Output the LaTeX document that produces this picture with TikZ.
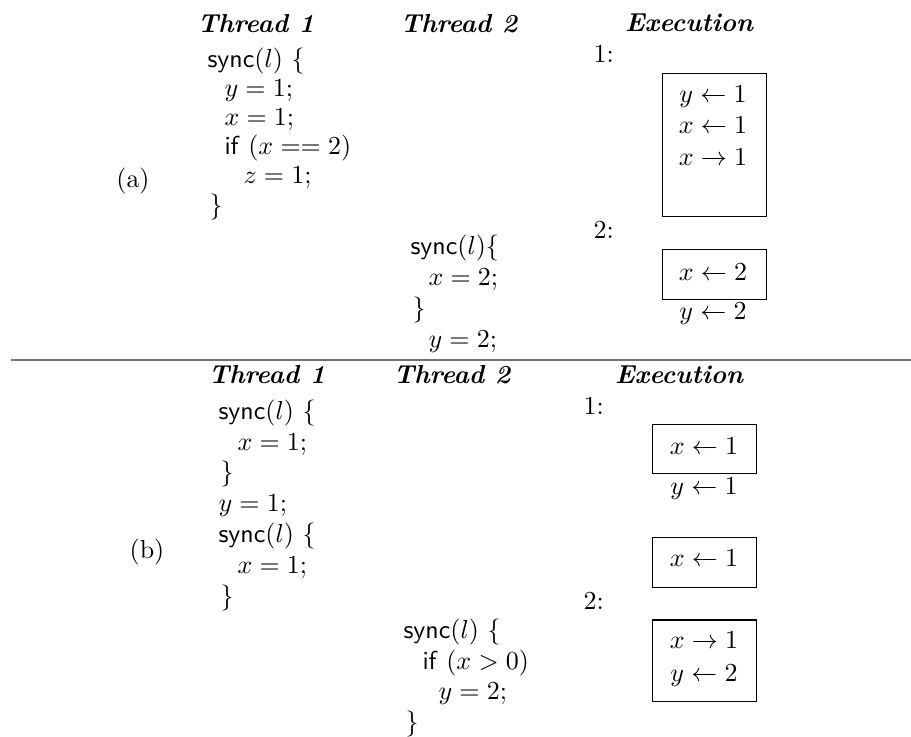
\documentclass[tikz,border=0pt]{standalone}
\usepackage{tikz}
\begin{document}
\begin{tikzpicture}[
    x=0.385pt, y=-0.385pt,
    code/.style={anchor=base west, inner sep=0pt},
    head/.style={anchor=base, inner sep=0pt, font=\bfseries\itshape},
    act/.style={anchor=base, inner sep=0pt},
    box/.style={draw, minimum width=40.4pt, inner sep=0pt}
  ]
  \useasboundingbox (0,0) rectangle (911,737);

  % (a)
  \node[head] (ha1) at (256,33) {Thread 1};
  \node[head] (ha2) at (459,33) {Thread 2};
  \node[head] (ha3) at (689,32) {Execution};
  \node[act] (la) at (133,188) {(a)};
  \foreach \n/\x/\y/\s in {1/207/68/{\textsf{sync}$(l)$ \{}, 2/224/97/{$y = 1;$},
      3/224/126/{$x = 1;$}, 4/224/155/{\textsf{if} $(x == 2)$},
      5/243/184/{$z = 1;$}, 6/209/213/{\}}} {
    \node[code] (a1\n) at (\x,\y) {\s};
  }
  \foreach \n/\x/\y/\s in {1/410/254/{\textsf{sync}$(l)$\{}, 2/428/285/{$x = 2;$},
      3/412/316/{\}}, 4/428/347/{$y = 2;$}} {
    \node[code] (a2\n) at (\x,\y) {\s};
  }
  \node[code] (ea1) at (593,63) {1:};
  \node[box, minimum height=55.4pt] (ba1) at (714.5,145) {};
  \node[act] (xa1) at (713,103) {$y \leftarrow 1$};
  \node[act] (xa2) at (713,134) {$x \leftarrow 1$};
  \node[act] (xa3) at (713,166) {$x \rightarrow 1$};
  \node[code] (ea2) at (593,239) {2:};
  \node[box, minimum height=18.9pt] (ba2) at (714.5,274.5) {};
  \node[act] (xa4) at (713,280) {$x \leftarrow 2$};
  \node[act] (xa5) at (713,319) {$y \leftarrow 2$};

  \draw[black!55, line width=0.8pt] (11,360) -- (911,360);

  % (b)
  \node[head] (hb1) at (267,383) {Thread 1};
  \node[head] (hb2) at (452,383) {Thread 2};
  \node[head] (hb3) at (679,383) {Execution};
  \node[act] (lb) at (147,558) {(b)};
  \foreach \n/\x/\y/\s in {1/218/419/{\textsf{sync}$(l)$ \{}, 2/237/450/{$x = 1;$},
      3/220/480/{\}}, 4/218/511/{$y = 1;$}, 5/218/542/{\textsf{sync}$(l)$ \{},
      6/237/573/{$x = 1;$}, 7/220/604/{\}}} {
    \node[code] (b1\n) at (\x,\y) {\s};
  }
  \foreach \n/\x/\y/\s in {1/403/638/{\textsf{sync}$(l)$ \{}, 2/422/669/{\textsf{if} $(x > 0)$},
      3/438/699/{$y = 2;$}, 4/405/730/{\}}} {
    \node[code] (b2\n) at (\x,\y) {\s};
  }
  \node[code] (eb1) at (583,414) {1:};
  \node[box, minimum height=18.5pt] (bb1) at (704.5,449) {};
  \node[act] (xb1) at (704,454) {$x \leftarrow 1$};
  \node[act] (xb2) at (704,494) {$y \leftarrow 1$};
  \node[box, minimum height=18.9pt] (bb2) at (704.5,562.5) {};
  \node[act] (xb3) at (704,566) {$x \leftarrow 1$};
  \node[code] (eb2) at (583,609) {2:};
  \node[box, minimum height=31.2pt] (bb3) at (704.5,660.5) {};
  \node[act] (xb4) at (704,648) {$x \rightarrow 1$};
  \node[act] (xb5) at (704,681) {$y \leftarrow 2$};
\end{tikzpicture}
\end{document}
